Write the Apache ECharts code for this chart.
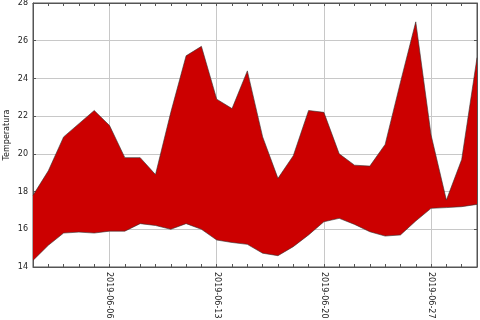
<!DOCTYPE html>
<html>
<head>
<meta charset="utf-8">
<script src="https://cdn.jsdelivr.net/npm/echarts@6/dist/echarts.min.js"></script>
<style>html,body{margin:0;padding:0;background:#fff}#c{width:480px;height:320px}</style>
</head>
<body>
<div id="c"></div>
<script>
var categories = ['2019-06-01','2019-06-02','2019-06-03','2019-06-04','2019-06-05','2019-06-06','2019-06-07','2019-06-08','2019-06-09','2019-06-10',
'2019-06-11','2019-06-12','2019-06-13','2019-06-14','2019-06-15','2019-06-16','2019-06-17','2019-06-18','2019-06-19','2019-06-20',
'2019-06-21','2019-06-22','2019-06-23','2019-06-24','2019-06-25','2019-06-26','2019-06-27','2019-06-28','2019-06-29','2019-06-30'];
var tempMax = [17.8,19.1,20.9,21.6,22.3,21.5,19.8,19.8,18.9,22.2,
25.2,25.7,22.9,22.4,24.4,20.9,18.7,19.9,22.3,22.2,
20.0,19.4,19.35,20.5,23.8,27.0,21.0,17.55,19.7,25.1];
var tempMin = [14.35,15.15,15.8,15.85,15.8,15.9,15.9,16.3,16.2,16.0,
16.3,16.0,15.43,15.3,15.2,14.73,14.6,15.08,15.7,16.4,
16.58,16.26,15.87,15.64,15.7,16.44,17.11,17.15,17.2,17.32];
var yTicks = [14,16,18,20,22,24,26,28];
var yLabel = 'Temperatura';

var band = tempMax.map(function(v,i){ return +(v - tempMin[i]).toFixed(3); });
var isMajor = function(i){ return i % 7 === 5; };
var font = 'DejaVu Sans';

var chart = echarts.init(document.getElementById('c'), null, {renderer:'canvas'});
chart.setOption({
  animation:false,
  grid:{left:33,right:3,top:3,bottom:53,show:true,borderColor:'#555',borderWidth:1,containLabel:false,outerBoundsMode:'none'},
  xAxis:[{
    type:'category', data:categories, boundaryGap:false,
    axisLine:{show:true,lineStyle:{color:'#555',width:1}},
    axisTick:{show:true,inside:true,length:3,interval:0,lineStyle:{color:'#555'}},
    axisLabel:{interval:function(i){return isMajor(i);},rotate:-90,fontSize:8,fontFamily:font,color:'#222',margin:5},
    splitLine:{show:true,interval:function(i){return isMajor(i);},lineStyle:{color:'#c8c8c8',width:1}}
  },{
    type:'category', data:categories, boundaryGap:false, position:'top',
    axisLine:{show:true,lineStyle:{color:'#555'}},
    axisTick:{show:true,inside:true,length:3,interval:0,lineStyle:{color:'#555'}},
    axisLabel:{show:false}, splitLine:{show:false}
  }],
  yAxis:[{
    type:'value', min:yTicks[0], max:yTicks[yTicks.length-1], interval:2,
    name:yLabel, nameLocation:'middle', nameGap:22, nameRotate:90, nameMoveOverlap:false,
    nameTextStyle:{fontSize:8,fontFamily:font,color:'#222'},
    axisLine:{show:true,lineStyle:{color:'#555'}},
    axisTick:{show:true,inside:true,length:3,lineStyle:{color:'#555'}},
    axisLabel:{fontSize:8,fontFamily:font,color:'#222',margin:5},
    splitLine:{show:true,lineStyle:{color:'#c8c8c8',width:1}}
  },{
    type:'value', min:yTicks[0], max:yTicks[yTicks.length-1], interval:2, position:'right',
    axisLine:{show:true,lineStyle:{color:'#555'}},
    axisTick:{show:true,inside:true,length:3,lineStyle:{color:'#555'}},
    axisLabel:{show:false}, splitLine:{show:false}
  }],
  series:[{
    type:'line', data:tempMin, stack:'t', symbol:'none',
    lineStyle:{color:'#333',width:0.6}, areaStyle:{opacity:0}
  },{
    type:'line', data:band, stack:'t', symbol:'none',
    lineStyle:{color:'#333',width:0.6}, areaStyle:{color:'#cc0000',opacity:1}
  }]
});
</script>
</body>
</html>
